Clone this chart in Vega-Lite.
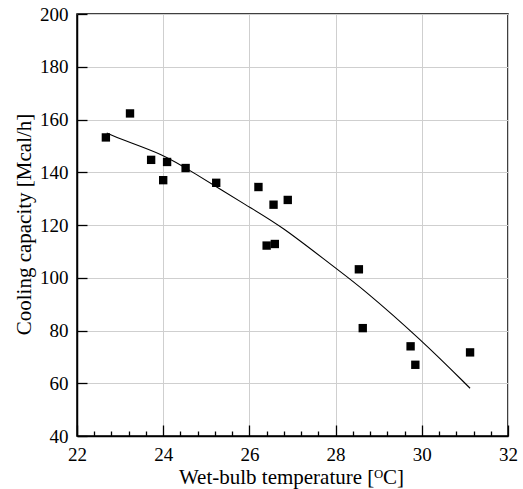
{
  "$schema": "https://vega.github.io/schema/vega-lite/v6.json",
  "width": 431,
  "height": 422,
  "autosize": "none",
  "padding": {"left": 77, "top": 14, "right": 15, "bottom": 53},
  "background": "white",
  "config": {
    "font": "Liberation Serif",
    "view": {"stroke": "black", "strokeWidth": 1.5}
  },
  "datasets": {
    "points": [
      {"t": 22.67, "q": 153.2},
      {"t": 23.23, "q": 162.3},
      {"t": 23.72, "q": 144.7},
      {"t": 24.0, "q": 137.0},
      {"t": 24.09, "q": 143.9},
      {"t": 24.52, "q": 141.6},
      {"t": 25.23, "q": 136.0},
      {"t": 26.21, "q": 134.4},
      {"t": 26.56, "q": 127.7},
      {"t": 26.89, "q": 129.5},
      {"t": 26.4, "q": 112.2},
      {"t": 26.59, "q": 112.8},
      {"t": 28.54, "q": 103.2},
      {"t": 28.63, "q": 80.9},
      {"t": 29.74, "q": 74.0},
      {"t": 29.85, "q": 67.0},
      {"t": 31.12, "q": 71.7}
    ],
    "fit": [
      {"t": 22.69, "q": 154.9},
      {"t": 23.0, "q": 152.6},
      {"t": 24.0, "q": 146.8},
      {"t": 24.62, "q": 140.7},
      {"t": 26.0, "q": 126.7},
      {"t": 26.71, "q": 120.0},
      {"t": 28.0, "q": 103.6},
      {"t": 28.58, "q": 96.6},
      {"t": 30.0, "q": 76.3},
      {"t": 31.12, "q": 58.1}
    ]
  },
  "resolve": {"axis": {"x": "independent", "y": "independent"}},
  "layer": [
    {
      "data": {"name": "fit"},
      "mark": {"type": "line", "color": "black", "strokeWidth": 1.1, "interpolate": "basis"},
      "encoding": {
        "x": {
          "field": "t", "type": "quantitative",
          "scale": {"domain": [22, 32], "nice": false, "zero": false},
          "axis": {
            "orient": "bottom",
            "title": "Wet-bulb temperature [ᴼC]",
            "titleFont": "Liberation Serif",
            "titleFontSize": 21,
            "titleFontWeight": "normal",
            "titleColor": "black",
            "titleBaseline": "alphabetic",
            "titleX": 214,
            "titleY": 47,
            "values": [22, 24, 26, 28, 30, 32],
            "labelFont": "Liberation Serif",
            "labelFontSize": 19,
            "labelColor": "black",
            "labelPadding": 20,
            "labelFlush": false,
            "labelOverlap": false,
            "ticks": true,
            "tickSize": -11,
            "tickColor": "black",
            "tickWidth": 1.3,
            "domain": true,
            "domainColor": "black",
            "domainWidth": 1.5,
            "grid": true,
            "gridColor": "#cfcfcf",
            "gridWidth": 1
          }
        },
        "y": {
          "field": "q", "type": "quantitative",
          "scale": {"domain": [40, 200], "nice": false, "zero": false},
          "axis": {
            "orient": "left",
            "title": "Cooling capacity [Mcal/h]",
            "titleFont": "Liberation Serif",
            "titleFontSize": 21,
            "titleFontWeight": "normal",
            "titleColor": "black",
            "titleBaseline": "alphabetic",
            "titleAngle": -90,
            "titleX": -47,
            "titleY": 210,
            "values": [40, 60, 80, 100, 120, 140, 160, 180, 200],
            "labelFont": "Liberation Serif",
            "labelFontSize": 19,
            "labelColor": "black",
            "labelPadding": 19,
            "labelFlush": false,
            "labelOverlap": false,
            "ticks": true,
            "tickSize": -10,
            "tickColor": "black",
            "tickWidth": 1.3,
            "domain": true,
            "domainColor": "black",
            "domainWidth": 1.5,
            "grid": true,
            "gridColor": "#cfcfcf",
            "gridWidth": 1
          }
        }
      }
    },
    {
      "data": {"name": "points"},
      "mark": {"type": "point", "shape": "square", "filled": true, "color": "black", "size": 70, "opacity": 1},
      "encoding": {
        "x": {
          "field": "t", "type": "quantitative",
          "axis": {
            "orient": "bottom",
            "title": null,
            "values": [22.4, 22.8, 23.2, 23.6, 24.4, 24.8, 25.2, 25.6, 26.4, 26.8, 27.2, 27.6, 28.4, 28.8, 29.2, 29.6, 30.4, 30.8, 31.2, 31.6],
            "labels": false,
            "domain": false,
            "grid": false,
            "ticks": true,
            "tickSize": -5,
            "tickColor": "black",
            "tickWidth": 1.3
          }
        },
        "y": {"field": "q", "type": "quantitative", "axis": null}
      }
    }
  ]
}
